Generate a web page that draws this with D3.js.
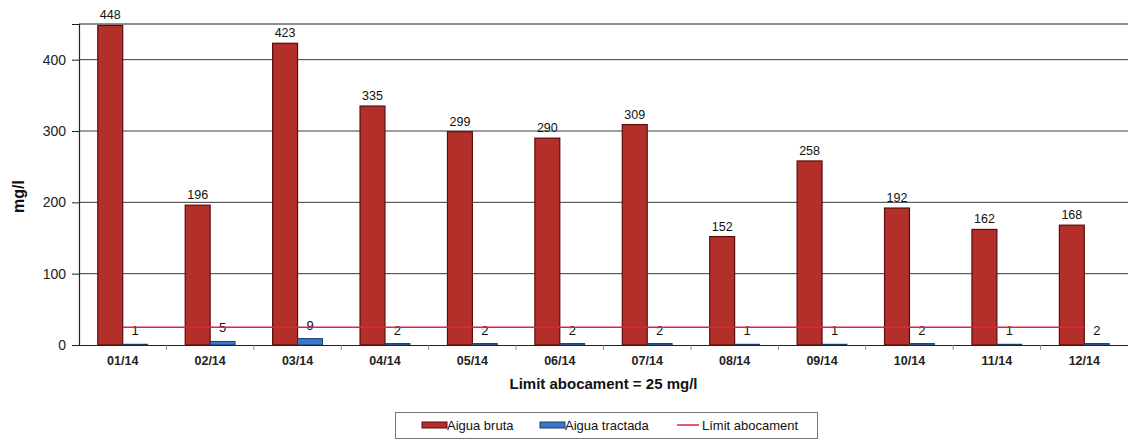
<!DOCTYPE html>
<html>
<head>
<meta charset="utf-8">
<script src="https://cdn.jsdelivr.net/npm/d3@7"></script>
<style>
  html, body { margin: 0; padding: 0; background: #ffffff; }
  svg { display: block; font-family: "Liberation Sans", Arial, sans-serif; }
</style>
</head>
<body>
<svg id="chart" width="1128" height="441"></svg>
<script>
// Monthly values (mg/l)
const months = ["01/14","02/14","03/14","04/14","05/14","06/14","07/14","08/14","09/14","10/14","11/14","12/14"];
const aiguaBruta = [448,196,423,335,299,290,309,152,258,192,162,168];
const aiguaTractada = [1,5,9,2,2,2,2,1,1,2,1,2];
const limitAbocament = [25,25,25,25,25,25,25,25,25,25,25,25];
const yTicks = [0,100,200,300,400];
const seriesNames = ["Aigua bruta","Aigua tractada","Límit abocament"];

const colBruta = "#b3302a", edgeBruta = "#5c0b0b";
const colTractada = "#3b78c9", edgeTractada = "#1d3b6b";
const colLimit = "#e3204a";

const svg = d3.select("#chart");
const m = {left: 79, right: 1128, top: 24, bottom: 345};

const x0 = d3.scaleBand().domain(months).range([m.left, m.right]).padding(0);
const bw = x0.bandwidth();
const x1 = d3.scaleBand().domain(["bruta","tractada"])
  .range([bw * 0.215, bw * 0.785]).padding(0);
const y = d3.scaleLinear().domain([0, 450]).range([m.bottom, m.top]);

// Horizontal gridlines
svg.append("g")
  .selectAll("line")
  .data(yTicks.filter(t => t > 0))
  .join("line")
  .attr("x1", m.left).attr("x2", m.right)
  .attr("y1", d => y(d)).attr("y2", d => y(d))
  .attr("stroke", "#3a3a3a").attr("stroke-width", 1);

// Top frame line
svg.append("line")
  .attr("x1", m.left).attr("x2", m.right)
  .attr("y1", m.top).attr("y2", m.top)
  .attr("stroke", "#6a6a6a").attr("stroke-width", 1.5);

// Y axis
const yAxis = d3.axisLeft(y).tickValues(yTicks).tickSize(7).tickPadding(6);
const gy = svg.append("g").attr("transform", `translate(${m.left},0)`).call(yAxis);
gy.select(".domain").attr("stroke", "#222").attr("stroke-width", 1.2);
gy.selectAll(".tick line").attr("stroke", "#222");
gy.selectAll(".tick text").attr("font-size", 14).attr("fill", "#222")
  .attr("font-family", "Liberation Sans, Arial, sans-serif");

// Bars
const groups = svg.append("g").selectAll("g")
  .data(months)
  .join("g")
  .attr("transform", d => `translate(${x0(d)},0)`);

groups.append("rect")
  .attr("x", x1("bruta")).attr("width", x1.bandwidth())
  .attr("y", (d, i) => y(aiguaBruta[i]))
  .attr("height", (d, i) => y(0) - y(aiguaBruta[i]))
  .attr("fill", colBruta).attr("stroke", edgeBruta).attr("stroke-width", 1.2);

groups.append("rect")
  .attr("x", x1("tractada")).attr("width", x1.bandwidth())
  .attr("y", (d, i) => y(aiguaTractada[i]))
  .attr("height", (d, i) => y(0) - y(aiguaTractada[i]))
  .attr("fill", colTractada).attr("stroke", edgeTractada).attr("stroke-width", 1);

// Limit line
const line = d3.line()
  .x((d, i) => x0(months[i]) + bw / 2)
  .y(d => y(d));
svg.append("path")
  .datum(limitAbocament)
  .attr("d", line)
  .attr("fill", "none").attr("stroke", colLimit).attr("stroke-width", 1.5);

// X axis
const xAxis = d3.axisBottom(x0).tickSize(0).tickPadding(11);
const gx = svg.append("g").attr("transform", `translate(0,${m.bottom})`).call(xAxis);
gx.select(".domain").attr("stroke", "#222").attr("stroke-width", 1.2);
gx.selectAll(".tick text").attr("font-size", 12.5).attr("font-weight", "bold").attr("fill", "#222")
  .attr("font-family", "Liberation Sans, Arial, sans-serif");
// category separators below the axis
gx.append("g").selectAll("line")
  .data(months.slice(1))
  .join("line")
  .attr("x1", d => x0(d)).attr("x2", d => x0(d))
  .attr("y1", 0).attr("y2", 5)
  .attr("stroke", "#888");

// Value labels
groups.append("text")
  .attr("x", x1("bruta") + x1.bandwidth() / 2)
  .attr("y", (d, i) => y(aiguaBruta[i]) - 6)
  .attr("text-anchor", "middle").attr("font-size", 12.5).attr("fill", "#111")
  .text((d, i) => aiguaBruta[i]);

groups.append("text")
  .attr("x", x1("tractada") + x1.bandwidth() / 2)
  .attr("y", (d, i) => y(aiguaTractada[i]) - 9)
  .attr("text-anchor", "middle").attr("font-size", 13).attr("fill", "#111")
  .text((d, i) => aiguaTractada[i]);

// Axis titles
svg.append("text")
  .attr("transform", `translate(24,${(m.top + m.bottom) / 2 + 12}) rotate(-90)`)
  .attr("text-anchor", "middle").attr("font-size", 16).attr("font-weight", "bold").attr("fill", "#111")
  .text("mg/l");

svg.append("text")
  .attr("x", (m.left + m.right) / 2).attr("y", 389)
  .attr("text-anchor", "middle").attr("font-size", 15).attr("font-weight", "bold").attr("fill", "#111")
  .text("Limit abocament = 25 mg/l");

// Legend
const lg = svg.append("g");
lg.append("rect").attr("x", 395.5).attr("y", 412.5).attr("width", 422).attr("height", 26)
  .attr("fill", "#fff").attr("stroke", "#777").attr("stroke-width", 1);
const items = [
  {name: seriesNames[0], type: "rect", fill: colBruta, edge: edgeBruta, x: 422},
  {name: seriesNames[1], type: "rect", fill: colTractada, edge: edgeTractada, x: 540},
  {name: seriesNames[2], type: "line", fill: colLimit, x: 677}
];
items.forEach(it => {
  if (it.type === "rect") {
    lg.append("rect").attr("x", it.x).attr("y", 422).attr("width", 25).attr("height", 6)
      .attr("fill", it.fill).attr("stroke", it.edge).attr("stroke-width", 1);
  } else {
    lg.append("line").attr("x1", it.x).attr("x2", it.x + 22).attr("y1", 425).attr("y2", 425)
      .attr("stroke", it.fill).attr("stroke-width", 1.5);
  }
  lg.append("text").attr("x", it.x + 25).attr("y", 430)
    .attr("font-size", 13).attr("fill", "#111").text(it.name);
});
</script>
</body>
</html>
